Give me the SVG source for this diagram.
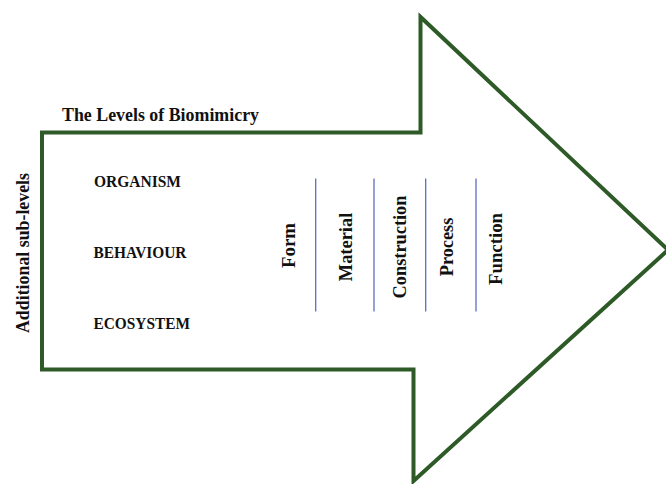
<svg xmlns="http://www.w3.org/2000/svg" width="666" height="484" viewBox="0 0 666 484">
<style>
.lbl{font-family:"Liberation Serif","Times New Roman",serif;font-weight:bold;fill:#111;}
.lvl{font-size:16.5px;}
.vt{font-size:19px;text-anchor:middle;}
.div{stroke:#5b6fc2;stroke-width:1.3;fill:none;}
</style>
<rect width="666" height="484" fill="#fff"/>
<g id="arrow">
<path d="M42,132.5 L420.5,132.5 L420.5,17 L668,250 L413.5,481 L413.5,369.5 L42,369.5 Z" fill="#fff" stroke="#2d5a27" stroke-width="4" stroke-linejoin="miter"/>
</g>
<g id="title"><text class="lbl" x="62" y="120.5" font-size="19.5" textLength="197" lengthAdjust="spacingAndGlyphs">The Levels of Biomimicry</text></g>
<g id="sublevels"><text class="lbl" transform="translate(29,253) rotate(-90)" text-anchor="middle" font-size="18" textLength="160" lengthAdjust="spacingAndGlyphs">Additional sub-levels</text></g>
<g id="organism"><text class="lbl lvl" x="94" y="187" textLength="87" lengthAdjust="spacingAndGlyphs">ORGANISM</text></g>
<g id="behaviour"><text class="lbl lvl" x="93.5" y="257.5" textLength="93" lengthAdjust="spacingAndGlyphs">BEHAVIOUR</text></g>
<g id="ecosystem"><text class="lbl lvl" x="93.5" y="329" textLength="96.5" lengthAdjust="spacingAndGlyphs">ECOSYSTEM</text></g>
<g id="form"><text class="lbl vt" transform="translate(295,245.5) rotate(-90)" textLength="45" lengthAdjust="spacingAndGlyphs">Form</text></g>
<g id="material"><text class="lbl vt" transform="translate(351.5,247) rotate(-90)" textLength="68.5" lengthAdjust="spacingAndGlyphs">Material</text></g>
<g id="construction"><text class="lbl vt" transform="translate(405.5,247) rotate(-90)" textLength="103" lengthAdjust="spacingAndGlyphs">Construction</text></g>
<g id="process"><text class="lbl vt" transform="translate(453,247) rotate(-90)" textLength="58.5" lengthAdjust="spacingAndGlyphs">Process</text></g>
<g id="function"><text class="lbl vt" transform="translate(501.5,249) rotate(-90)" textLength="72" lengthAdjust="spacingAndGlyphs">Function</text></g>
<g id="connectors">
<line class="div" x1="315.7" y1="178.5" x2="315.7" y2="311.5"/>
<line class="div" x1="374" y1="178.5" x2="374" y2="311.5"/>
<line class="div" x1="425.7" y1="178.5" x2="425.7" y2="311.5"/>
<line class="div" x1="476" y1="178.5" x2="476" y2="311.5"/>
</g>
</svg>
